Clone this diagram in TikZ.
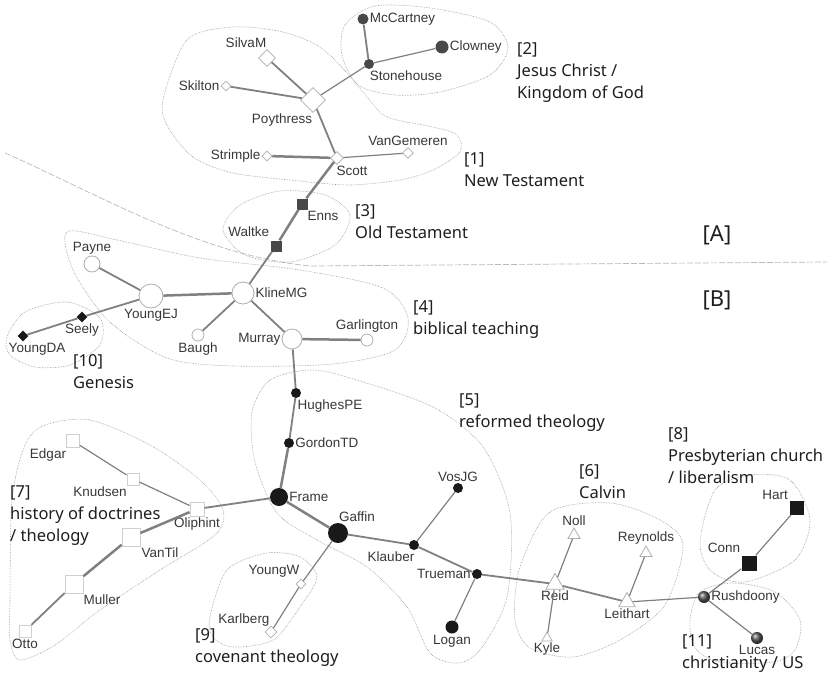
\documentclass[tikz,border=0pt]{standalone}
\usepackage{fontspec}
\usepackage{tikz}
\usetikzlibrary{shapes.geometric}
\newfontfamily\lblfamily{Liberation Sans}
\newfontfamily\clufamily{Noto Sans}
\definecolor{lkgray}{RGB}{128,128,128}
\definecolor{rimgray}{RGB}{175,175,175}
\definecolor{hullgray}{RGB}{150,150,150}
\definecolor{darknode}{RGB}{72,72,72}
\definecolor{blacknode}{RGB}{25,25,25}
\definecolor{lbltext}{RGB}{55,55,55}
\definecolor{clutext}{RGB}{30,30,30}
\tikzset{
  lbl/.style={font=\lblfamily\fontsize{13.5}{15}\selectfont, text=lbltext, inner sep=1pt},
  clulbl/.style={font=\clufamily\fontsize{16.5}{22}\selectfont, text=clutext,
    align=left, anchor=base west, inner sep=0pt},
  wcirc/.style={circle, draw=rimgray, fill=white, inner sep=0pt, line width=0.8pt},
  bcirc/.style={circle, fill=blacknode, inner sep=0pt},
  dcirc/.style={circle, fill=darknode, inner sep=0pt},
  wdia/.style={diamond, aspect=1, draw=rimgray, fill=white, inner sep=0pt, line width=0.8pt},
  bdia/.style={diamond, aspect=1, fill=blacknode, inner sep=0pt},
  wsq/.style={rectangle, draw=rimgray!60, fill=white, inner sep=0pt, line width=0.8pt},
  bsq/.style={rectangle, fill=blacknode, inner sep=0pt},
  dsq/.style={rectangle, fill=darknode, inner sep=0pt},
  tri/.style={regular polygon, regular polygon sides=3, draw=rimgray, fill=white,
    inner sep=0pt, line width=0.8pt},
  ball/.style={circle, ball color=gray!70!black, inner sep=0pt},
  lk/.style={draw=lkgray, line width=1.8pt},
  lkw/.style={draw=lkgray, line width=2.5pt},
  lkn/.style={draw=lkgray, line width=1.2pt},
  hull/.style={draw=hullgray, line width=0.6pt, densely dotted}
}
\begin{document}
\begin{tikzpicture}[x=1pt, y=-1pt]
  \useasboundingbox (0,0) rectangle (827,677);

  % divider between [A] and [B]
  \draw[gray!55, line width=0.7pt, dash pattern=on 6pt off 2pt]
    (5,153) .. controls (100,195) and (200,255) .. (310,266) -- (827,262);

  % cluster hulls
  \draw[hull] plot[smooth cycle] coordinates {(345,25) (375,6) (430,8) (490,22) (508,48)
    (490,75) (440,92) (395,95) (358,85) (342,55)}; % [2]
  \draw[hull] plot[smooth cycle] coordinates {(163,100) (187,40) (233,27) (283,32) (320,47)
    (347,73) (367,97) (387,117) (433,127) (457,135) (460,152) (433,170) (400,180)
    (350,185) (300,181) (233,173) (193,157) (168,127)}; % [1]
  \draw[hull] plot[smooth cycle] coordinates {(223,230) (240,205) (280,191) (325,195)
    (350,215) (335,245) (290,262) (245,255)}; % [3]
  \draw[hull] plot[smooth cycle] coordinates {(67,232) (117,240) (200,258) (300,270)
    (383,288) (408,318) (395,350) (333,364) (233,366) (167,358) (110,322) (74,272)}; % [4]
  \draw[hull] plot[smooth cycle] coordinates {(7,337) (25,312) (67,302) (100,318)
    (100,345) (70,365) (35,367) (10,355)}; % [10]
  \draw[hull] plot[smooth cycle] coordinates {(252,412) (270,380) (310,370) (350,378)
    (433,407) (483,447) (510,513) (507,597) (480,650) (457,663) (430,653) (407,607)
    (367,567) (317,540) (277,513) (255,462)}; % [5]
  \draw[hull] plot[smooth cycle] coordinates {(10,600) (12,500) (25,445) (45,425) (90,420)
    (150,445) (200,480) (223,510) (215,535) (160,570) (100,610) (55,645) (20,660)
    (10,640)}; % [7]
  \draw[hull] plot[smooth cycle] coordinates {(210,617) (227,570) (267,553) (300,557)
    (317,577) (300,607) (273,640) (233,647) (213,637)}; % [9]
  \draw[hull] plot[smooth cycle] coordinates {(520,567) (550,512) (610,503) (660,520)
    (683,545) (665,605) (620,640) (573,657) (530,648) (515,620)}; % [6]
  \draw[hull] plot[smooth cycle] coordinates {(700,543) (715,490) (750,475) (790,480)
    (810,520) (795,560) (745,582) (712,572)}; % [8]
  \draw[hull] plot[smooth cycle] coordinates {(690,620) (700,592) (733,583) (775,592)
    (800,620) (795,650) (773,662) (720,662) (695,648)}; % [11]

  % New Testament side
  \node[dcirc, minimum size=11pt, label={[lbl]right:McCartney}] (mccartney) at (363,19) {};
  \node[dcirc, minimum size=13pt, label={[lbl]right:Clowney}] (clowney) at (442,47) {};
  \node[dcirc, minimum size=10pt, label={[lbl, xshift=37pt]below:Stonehouse}] (stonehouse) at (369,64) {};
  \node[wdia, minimum size=17pt, label={[lbl, xshift=-21pt]above:SilvaM}] (silvam) at (267,58) {};
  \node[wdia, minimum size=10pt, label={[lbl]left:Skilton}] (skilton) at (226,86) {};
  \node[wdia, minimum size=25pt, label={[lbl, xshift=-31pt]below:Poythress}] (poythress) at (313,100) {};
  \node[wdia, minimum size=10pt, label={[lbl]left:Strimple}] (strimple) at (267,156) {};
  \node[wdia, minimum size=11pt, label={[lbl]above:VanGemeren}] (vangemeren) at (408,153) {};
  \node[wdia, minimum size=13pt, label={[lbl, xshift=15pt]below:Scott}] (scott) at (337,158) {};
  \node[dsq, minimum size=11pt, label={[lbl, xshift=21pt]below:Enns}] (enns) at (302,204) {};
  \node[dsq, minimum size=11pt, label={[lbl, yshift=14pt]left:Waltke}] (waltke) at (276,246) {};

  % biblical teaching
  \node[wcirc, minimum size=22pt, label={[lbl]right:KlineMG}] (klinemg) at (243,293) {};
  \node[wcirc, minimum size=16pt, label={[lbl]above:Payne}] (payne) at (92,264) {};
  \node[wcirc, minimum size=24pt, label={[lbl]below:YoungEJ}] (youngej) at (151,296) {};
  \node[bdia, minimum size=11pt, label={[lbl]below:Seely}] (seely) at (82,317) {};
  \node[bdia, minimum size=11pt, label={[lbl, xshift=14pt]below:YoungDA}] (youngda) at (23,336) {};
  \node[wcirc, minimum size=12pt, label={[lbl]below:Baugh}] (baugh) at (198,335) {};
  \node[wcirc, minimum size=20pt, label={[lbl]left:Murray}] (murray) at (292,339) {};
  \node[wcirc, minimum size=12pt, label={[lbl]above:Garlington}] (garlington) at (367,340) {};

  % reformed theology
  \node[bcirc, minimum size=10pt, label={[lbl, xshift=34pt]below:HughesPE}] (hughespe) at (296,393) {};
  \node[bcirc, minimum size=10pt, label={[lbl]right:GordonTD}] (gordontd) at (289,443) {};
  \node[bcirc, minimum size=18pt, label={[lbl]right:Frame}] (frame) at (279,497) {};
  \node[bcirc, minimum size=20pt, label={[lbl, xshift=19pt]above:Gaffin}] (gaffin) at (338,533) {};
  \node[bcirc, minimum size=10pt, label={[lbl]above:VosJG}] (vosjg) at (458,488) {};
  \node[bcirc, minimum size=10pt, label={[lbl, xshift=-23pt]below:Klauber}] (klauber) at (414,545) {};
  \node[bcirc, minimum size=10pt, label={[lbl]left:Trueman}] (trueman) at (477,574) {};
  \node[bcirc, minimum size=13pt, label={[lbl]below:Logan}] (logan) at (452,627) {};

  % history of doctrines
  \node[wsq, minimum size=13pt, label={[lbl, xshift=-25pt]below:Edgar}] (edgar) at (73,441) {};
  \node[wsq, minimum size=12pt, label={[lbl, xshift=-33pt]below:Knudsen}] (knudsen) at (133,479) {};
  \node[wsq, minimum size=14pt, label={[lbl]below:Oliphint}] (oliphint) at (197,509) {};
  \node[wsq, minimum size=18pt, label={[lbl, xshift=29pt]below:VanTil}] (vantil) at (131,537) {};
  \node[wsq, minimum size=18pt, label={[lbl, xshift=28pt]below:Muller}] (muller) at (74,584) {};
  \node[wsq, minimum size=12pt, label={[lbl]below:Otto}] (otto) at (25,631) {};

  % covenant theology
  \node[wdia, minimum size=10pt, label={[lbl, xshift=-27pt]above:YoungW}] (youngw) at (301,584) {};
  \node[wdia, minimum size=12pt, label={[lbl, xshift=-27pt, yshift=-2pt]above:Karlberg}] (karlberg) at (271,632) {};

  % Calvin
  \node[tri, minimum size=14pt, label={[lbl]above:Noll}] (noll) at (574,535) {};
  \node[tri, minimum size=21pt, label={[lbl]below:Reid}] (reid) at (555,584) {};
  \node[tri, minimum size=12pt, label={[lbl]below:Kyle}] (kyle) at (547,638) {};
  \node[tri, minimum size=14pt, label={[lbl]above:Reynolds}] (reynolds) at (646,553) {};
  \node[tri, minimum size=19pt, label={[lbl]below:Leithart}] (leithart) at (627,602) {};

  % church / US
  \node[bsq, minimum size=14pt, label={[lbl, xshift=-22pt]above:Hart}] (hart) at (797,508) {};
  \node[bsq, minimum size=15pt, label={[lbl, yshift=15pt]left:Conn}] (conn) at (749,563) {};
  \node[ball, minimum size=12pt, label={[lbl]right:Rushdoony}] (rushdoony) at (704,597) {};
  \node[ball, minimum size=12pt, label={[lbl]below:Lucas}] (lucas) at (757,638) {};

  % links
  \draw[lk] (mccartney) -- (stonehouse);
  \draw[lkn] (clowney) -- (stonehouse);
  \draw[lkn] (stonehouse) -- (poythress);
  \draw[lk] (silvam) -- (poythress);
  \draw[lk] (skilton) -- (poythress);
  \draw[lk] (poythress) -- (scott);
  \draw[lkw] (strimple) -- (scott);
  \draw[lkn] (vangemeren) -- (scott);
  \draw[lkw] (scott) -- (enns);
  \draw[lkw] (enns) -- (waltke);
  \draw[lk] (waltke) -- (klinemg);
  \draw[lkw] (klinemg) -- (youngej);
  \draw[lk] (youngej) -- (payne);
  \draw[lk] (youngej) -- (seely);
  \draw[lk] (seely) -- (youngda);
  \draw[lk] (klinemg) -- (baugh);
  \draw[lk] (klinemg) -- (murray);
  \draw[lkw] (murray) -- (garlington);
  \draw[lk] (murray) -- (hughespe);
  \draw[lk] (hughespe) -- (gordontd);
  \draw[lkw] (gordontd) -- (frame);
  \draw[lk] (frame) -- (oliphint);
  \draw[lkw] (frame) -- (gaffin);
  \draw[lkn] (oliphint) -- (knudsen);
  \draw[lkn] (knudsen) -- (edgar);
  \draw[lkw] (oliphint) -- (vantil);
  \draw[lkw] (vantil) -- (muller);
  \draw[lk] (muller) -- (otto);
  \draw[lkn] (gaffin) -- (youngw);
  \draw[lkn] (youngw) -- (karlberg);
  \draw[lk] (gaffin) -- (klauber);
  \draw[lkn] (klauber) -- (vosjg);
  \draw[lk] (klauber) -- (trueman);
  \draw[lkn] (trueman) -- (logan);
  \draw[lk] (trueman) -- (reid);
  \draw[lkn] (reid) -- (noll);
  \draw[lkn] (reid) -- (kyle);
  \draw[lk] (reid) -- (leithart);
  \draw[lkn] (leithart) -- (reynolds);
  \draw[lkn] (leithart) -- (rushdoony);
  \draw[lkn] (rushdoony) -- (conn);
  \draw[lkn] (conn) -- (hart);
  \draw[lkn] (rushdoony) -- (lucas);

  % cluster captions (anchored at the baseline of the last line)
  \node[clulbl] (cap2) at (517,99) {[2]\\Jesus Christ /\\Kingdom of God};
  \node[clulbl] (cap1) at (464,186) {[1]\\New Testament};
  \node[clulbl] (cap3) at (355,238) {[3]\\Old Testament};
  \node[clulbl] (cap4) at (413,334) {[4]\\biblical teaching};
  \node[clulbl] (cap10) at (73,388) {[10]\\Genesis};
  \node[clulbl] (cap5) at (459,427) {[5]\\reformed theology};
  \node[clulbl] (cap7) at (10,541) {[7]\\history of doctrines\\/ theology};
  \node[clulbl] (cap9) at (195,662) {[9]\\covenant theology};
  \node[clulbl] (cap6) at (579,498) {[6]\\Calvin};
  \node[clulbl] (cap8) at (668,483) {[8]\\Presbyterian church\\/ liberalism};
  \node[clulbl] (cap11) at (682,668) {[11]\\christianity / US};
  \node[clulbl, font=\clufamily\fontsize{22}{26}\selectfont, anchor=center] (secA) at (717,235) {[A]};
  \node[clulbl, font=\clufamily\fontsize{22}{26}\selectfont, anchor=center] (secB) at (717,300) {[B]};
\end{tikzpicture}
\end{document}
